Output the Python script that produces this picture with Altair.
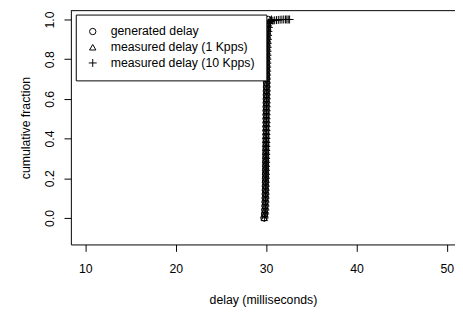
import altair as alt
import pandas as pd

series_names = ["generated delay", "measured delay (1 Kpps)", "measured delay (10 Kpps)"]

frac = [0.00, 0.02, 0.04, 0.06, 0.08, 0.10, 0.12, 0.14, 0.16, 0.18,
        0.20, 0.22, 0.24, 0.26, 0.28, 0.30, 0.32, 0.34, 0.36, 0.38,
        0.40, 0.42, 0.44, 0.46, 0.48, 0.50, 0.52, 0.54, 0.56, 0.58,
        0.60, 0.62, 0.64, 0.66, 0.68, 0.70, 0.72, 0.74, 0.76, 0.78,
        0.80, 0.82, 0.84, 0.86, 0.88, 0.90, 0.92, 0.94, 0.96, 0.98,
        1.00]

gen_delay = [29.76, 29.83, 29.86, 29.88, 29.89, 29.90, 29.91, 29.92, 29.92, 29.93,
             29.93, 29.94, 29.94, 29.95, 29.95, 29.96, 29.96, 29.97, 29.97, 29.98,
             29.98, 29.99, 29.99, 29.99, 30.00, 30.00, 30.00, 30.01, 30.01, 30.02,
             30.02, 30.03, 30.03, 30.04, 30.04, 30.05, 30.05, 30.06, 30.06, 30.07,
             30.07, 30.08, 30.08, 30.09, 30.10, 30.11, 30.12, 30.14, 30.16, 30.19,
             30.25]

kpps1_delay = [29.80, 29.86, 29.89, 29.90, 29.91, 29.92, 29.93, 29.94, 29.94, 29.95,
               29.95, 29.96, 29.96, 29.97, 29.97, 29.98, 29.98, 29.99, 29.99, 30.00,
               30.00, 30.01, 30.01, 30.01, 30.02, 30.02, 30.02, 30.03, 30.03, 30.04,
               30.04, 30.05, 30.05, 30.06, 30.06, 30.07, 30.07, 30.08, 30.08, 30.09,
               30.09, 30.10, 30.10, 30.11, 30.12, 30.13, 30.14, 30.16, 30.19, 30.24,
               30.45]

kpps10_delay = [29.84, 29.90, 29.92, 29.93, 29.94, 29.95, 29.96, 29.96, 29.97, 29.97,
                29.98, 29.98, 29.99, 29.99, 30.00, 30.00, 30.01, 30.01, 30.02, 30.02,
                30.03, 30.03, 30.04, 30.04, 30.05, 30.05, 30.06, 30.06, 30.07, 30.07,
                30.08, 30.08, 30.09, 30.09, 30.10, 30.10, 30.11, 30.12, 30.12, 30.13,
                30.14, 30.15, 30.16, 30.17, 30.18, 30.20, 30.22, 30.25, 30.30, 30.40,
                30.60]

kpps10_tail_frac = [0.990, 0.994, 0.996, 0.997, 0.998, 0.999, 0.9995, 1.0, 1.0, 1.0, 1.0, 1.0]
kpps10_tail_delay = [30.50, 30.75, 30.95, 31.15, 31.35, 31.55, 31.75, 31.95, 32.15, 32.30, 32.45, 32.60]

x_ticks = [10, 20, 30, 40, 50]
y_ticks = [0.0, 0.2, 0.4, 0.6, 0.8, 1.0]

df = pd.concat([
    pd.DataFrame({"delay": gen_delay, "frac": frac, "series": series_names[0], "ord": 0}),
    pd.DataFrame({"delay": kpps1_delay, "frac": frac, "series": series_names[1], "ord": 1}),
    pd.DataFrame({"delay": kpps10_delay + kpps10_tail_delay,
                  "frac": frac + kpps10_tail_frac, "series": series_names[2], "ord": 2}),
], ignore_index=True)

plus_path = "M-1.25,0L1.25,0M0,-1.25L0,1.25"
FONT = "Liberation Sans"
FS = 12.5

points = alt.Chart(df).mark_point(filled=False, color="black", strokeWidth=1, opacity=1,
                                  size=42, clip=True).encode(
    x=alt.X("delay:Q",
            scale=alt.Scale(domain=[8.4, 50.9], nice=False, zero=False),
            axis=alt.Axis(values=x_ticks, title="delay (milliseconds)", format="d",
                          tickSize=7, labelPadding=12, titlePadding=19)),
    y=alt.Y("frac:Q",
            scale=alt.Scale(domain=[-0.134, 1.0446], nice=False, zero=False),
            axis=alt.Axis(values=y_ticks, title="cumulative fraction", format=".1f",
                          tickSize=7, labelAngle=270, labelAlign="center", labelBaseline="bottom",
                          labelPadding=8, titlePadding=11)),
    shape=alt.Shape("series:N",
                    scale=alt.Scale(domain=series_names, range=["circle", "triangle-up", plus_path]),
                    legend=alt.Legend(title=None)),
    order=alt.Order("ord:Q"),
)

top_rule = alt.Chart(pd.DataFrame({"k": [0]})).mark_rule(color="black", strokeWidth=1).encode(
    x=alt.value(0), x2=alt.value(391), y=alt.value(0)
)

chart = alt.layer(points, top_rule).properties(
    width=391, height=238,
    autosize=alt.AutoSizeParams(type="none"),
    padding={"left": 64, "top": 0, "right": 0, "bottom": 63},
).configure_view(stroke=None).configure_axis(
    grid=False, domainColor="black", tickColor="black", labelColor="black", titleColor="black",
    labelFont=FONT, titleFont=FONT, labelFontSize=FS, titleFontSize=FS, titleFontWeight="normal",
    domainWidth=1, tickWidth=1,
).configure_legend(
    orient="none", legendX=5, legendY=4,
    strokeColor="black", fillColor="white", padding=11, labelFont=FONT, labelFontSize=FS,
    labelColor="black", symbolSize=42, symbolStrokeWidth=1, symbolStrokeColor="black",
    symbolFillColor="transparent", rowPadding=3, labelOffset=12, cornerRadius=0,
)

chart.save("out.html", embed_options={"renderer": "svg", "actions": False})
